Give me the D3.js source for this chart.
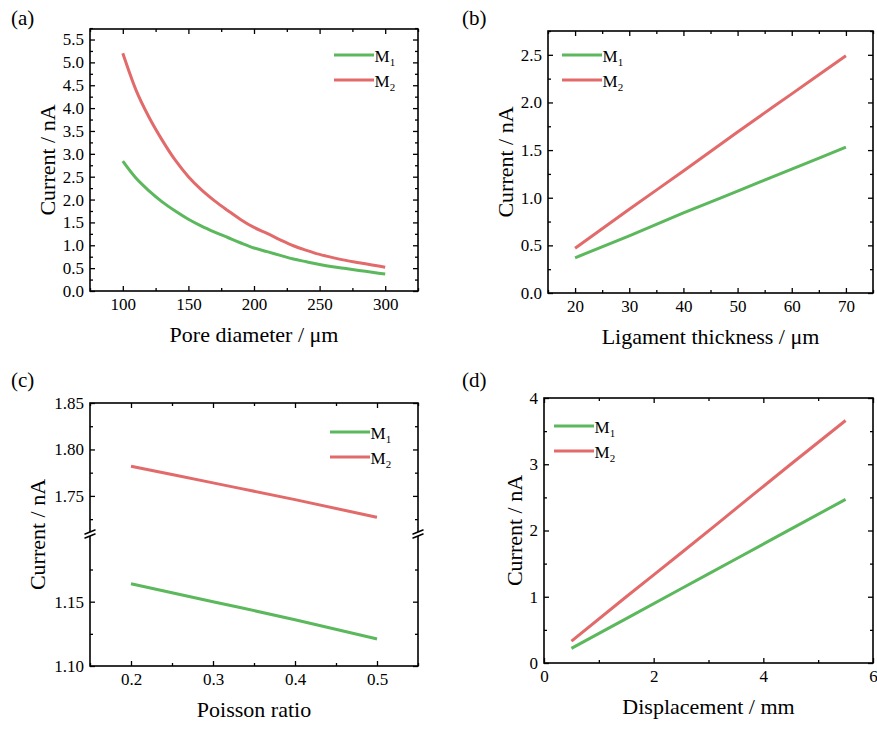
<!DOCTYPE html>
<html><head><meta charset="utf-8">
<script src="https://cdn.jsdelivr.net/npm/d3@7"></script>
<style>
body{margin:0;background:#fff}
svg{display:block}
</style>
</head><body>
<svg id="chart" width="877" height="729"></svg>
<script>
// ---------- data ----------
const seriesNames = ["M", "M"];
const seriesSubs = ["1", "2"];
const seriesColors = ["#5cb85c", "#e36a6a"];

// (a) pore diameter
const poreDiameter = [100,110,120,130,140,150,160,170,180,190,200,210,220,230,240,250,260,270,280,290,300];
const poreM1 = [2.84,2.47,2.19,1.95,1.75,1.57,1.42,1.29,1.17,1.05,0.94,0.86,0.78,0.70,0.64,0.58,0.53,0.49,0.45,0.41,0.37];
const poreM2 = [5.20,4.40,3.80,3.30,2.86,2.50,2.21,1.97,1.76,1.56,1.39,1.26,1.12,0.99,0.89,0.80,0.73,0.67,0.62,0.57,0.52];
const poreXTicks = [100,150,200,250,300];
const poreXMinor = [75,125,175,225,275,325];
const poreYTicks = [0,0.5,1,1.5,2,2.5,3,3.5,4,4.5,5,5.5];
const poreYMinor = [0.25,0.75,1.25,1.75,2.25,2.75,3.25,3.75,4.25,4.75,5.25,5.75];

// (b) ligament thickness
const ligament = [20,30,40,50,60,70];
const ligM1 = [0.37,0.60,0.84,1.07,1.30,1.53];
const ligM2 = [0.47,0.88,1.28,1.69,2.09,2.49];
const ligXTicks = [20,30,40,50,60,70];
const ligXMinor = [15,25,35,45,55,65,75];
const ligYTicks = [0,0.5,1,1.5,2,2.5];
const ligYMinor = [0.25,0.75,1.25,1.75,2.25,2.75];

// (c) Poisson ratio (broken y axis)
const poisson = [0.2,0.3,0.4,0.5];
const poisM1 = [1.164,1.150,1.136,1.121];
const poisM2 = [1.782,1.764,1.746,1.727];
const poisXTicks = [0.2,0.3,0.4,0.5];
const poisXMinor = [0.15,0.25,0.35,0.45,0.55];
const poisYTicksLow = [1.10,1.15];
const poisYMinorLow = [1.125,1.175];
const poisYTicksHigh = [1.75,1.80,1.85];
const poisYMinorHigh = [1.725,1.775,1.825];

// (d) displacement
const displacement = [0.5,1.5,2.5,3.5,4.5,5.5];
const dispM1 = [0.22,0.67,1.12,1.57,2.02,2.47];
const dispM2 = [0.33,1.00,1.66,2.33,3.00,3.66];
const dispXTicks = [0,2,4,6];
const dispXMinor = [1,3,5];
const dispYTicks = [0,1,2,3,4];
const dispYMinor = [0.5,1.5,2.5,3.5];

// ---------- drawing ----------
const FONT = "Liberation Serif";
const svg = d3.select("#chart");
const TICK_FS = 17, TITLE_FS = 22, MAJ = 5, MIN = 3;

function cleanAxis(sel){ sel.attr("font-family",FONT); sel.select(".domain").remove(); sel.selectAll("line").attr("stroke","#000").attr("stroke-width",1.3); sel.selectAll("text").attr("font-size",TICK_FS).attr("fill","#000").attr("font-family",FONT); }

function panel(cfg){
  const g = svg.append("g");
  const {x0,x1,yb,yt} = cfg;
  const x = d3.scaleLinear().domain(cfg.xDomain).range([x0,x1]);
  g.append("g").attr("transform",`translate(0,${yb})`)
    .call(d3.axisBottom(x).tickValues(cfg.xTicks).tickSize(-MAJ).tickPadding(7).tickFormat(cfg.xFmt)).call(cleanAxis);
  g.append("g").attr("transform",`translate(0,${yb})`)
    .call(d3.axisBottom(x).tickValues(cfg.xMinor).tickSize(-MIN).tickFormat("")).call(cleanAxis);
  g.append("g").attr("transform",`translate(0,${yt})`)
    .call(d3.axisTop(x).tickValues(cfg.xTicks).tickSize(-MAJ).tickFormat("")).call(cleanAxis);
  g.append("g").attr("transform",`translate(0,${yt})`)
    .call(d3.axisTop(x).tickValues(cfg.xMinor).tickSize(-MIN).tickFormat("")).call(cleanAxis);
  const yScales = cfg.ySegs.map(s => {
    const y = d3.scaleLinear().domain(s.domain).range(s.range);
    g.append("g").attr("transform",`translate(${x0},0)`)
      .call(d3.axisLeft(y).tickValues(s.ticks).tickSize(-MAJ).tickPadding(6).tickFormat(cfg.yFmt)).call(cleanAxis);
    g.append("g").attr("transform",`translate(${x0},0)`)
      .call(d3.axisLeft(y).tickValues(s.minor).tickSize(-MIN).tickFormat("")).call(cleanAxis);
    g.append("g").attr("transform",`translate(${x1},0)`)
      .call(d3.axisRight(y).tickValues(s.ticks).tickSize(-MAJ).tickFormat("")).call(cleanAxis);
    g.append("g").attr("transform",`translate(${x1},0)`)
      .call(d3.axisRight(y).tickValues(s.minor).tickSize(-MIN).tickFormat("")).call(cleanAxis);
    return y;
  });
  g.append("rect").attr("x",x0).attr("y",yt).attr("width",x1-x0).attr("height",yb-yt)
    .attr("fill","none").attr("stroke","#000").attr("stroke-width",1.6);
  if (cfg.breakY !== undefined){
    [x0,x1].forEach(bx=>{
      g.append("rect").attr("x",bx-2).attr("y",cfg.breakY-2).attr("width",4).attr("height",4).attr("fill","#fff");
      [-2,2].forEach(o=>{
        g.append("line").attr("x1",bx-5.5).attr("y1",cfg.breakY+o+2.2).attr("x2",bx+5.5).attr("y2",cfg.breakY+o-2.2)
          .attr("stroke","#000").attr("stroke-width",1.5);
      });
    });
  }
  const line = d3.line().curve(d3.curveMonotoneX);
  cfg.series.forEach((s,i)=>{
    const y = yScales[s.seg||0];
    g.append("path").datum(s.xs.map((v,k)=>[x(v), y(s.ys[k])]))
      .attr("d",line).attr("fill","none").attr("stroke",seriesColors[i]).attr("stroke-width",3)
      .attr("stroke-linejoin","round");
  });
  cfg.series.forEach((s,i)=>{
    const ly = cfg.legY + i*25;
    g.append("line").attr("x1",cfg.legX).attr("x2",cfg.legX+40).attr("y1",ly).attr("y2",ly)
      .attr("stroke",seriesColors[i]).attr("stroke-width",3);
    const t = g.append("text").attr("x",cfg.legX+40.5).attr("y",ly+6.5).attr("font-size",17);
    t.append("tspan").text(seriesNames[i]);
    t.append("tspan").attr("font-size",11).attr("dy",4).text(seriesSubs[i]);
  });
  g.append("text").attr("x",(x0+x1)/2).attr("y",yb+51).attr("text-anchor","middle")
    .attr("font-size",TITLE_FS).text(cfg.xTitle);
  g.append("text").attr("transform",`translate(${cfg.yTitleX},${(yb+yt)/2}) rotate(-90)`)
    .attr("text-anchor","middle").attr("font-size",TITLE_FS).text("Current / nA");
  g.append("text").attr("x",cfg.labX).attr("y",cfg.labY).attr("font-size",21).text(cfg.label);
}

const f1 = d3.format(".1f"), f2 = d3.format(".2f"), f0 = d3.format("d");

panel({label:"(a)", labX:11, labY:25,
  x0:90, x1:418, yb:291, yt:29, xDomain:[75,325], xTicks:poreXTicks, xMinor:poreXMinor, xFmt:f0, yFmt:f1,
  ySegs:[{domain:[0,5.73], range:[291,29], ticks:poreYTicks, minor:poreYMinor}],
  series:[{xs:poreDiameter, ys:poreM1},{xs:poreDiameter, ys:poreM2}],
  legX:334, legY:55, xTitle:"Pore diameter / μm", yTitleX:55});

panel({label:"(b)", labX:462, labY:25,
  x0:548, x1:873, yb:293, yt:31, xDomain:[15,75], xTicks:ligXTicks, xMinor:ligXMinor, xFmt:f0, yFmt:f1,
  ySegs:[{domain:[0,2.75], range:[293,31], ticks:ligYTicks, minor:ligYMinor}],
  series:[{xs:ligament, ys:ligM1},{xs:ligament, ys:ligM2}],
  legX:562, legY:55, xTitle:"Ligament thickness / μm", yTitleX:513});

panel({label:"(c)", labX:11, labY:387,
  x0:90, x1:418, yb:666, yt:403, xDomain:[0.15,0.55], xTicks:poisXTicks, xMinor:poisXMinor, xFmt:f1, yFmt:f2,
  ySegs:[{domain:[1.10,1.2026], range:[666,534], ticks:poisYTicksLow, minor:poisYMinorLow},
         {domain:[1.709,1.85], range:[534,403], ticks:poisYTicksHigh, minor:poisYMinorHigh}],
  breakY:534,
  series:[{xs:poisson, ys:poisM1, seg:0},{xs:poisson, ys:poisM2, seg:1}],
  legX:330, legY:432, xTitle:"Poisson ratio", yTitleX:45});

panel({label:"(d)", labX:462, labY:387,
  x0:544, x1:873, yb:663, yt:398, xDomain:[0,6], xTicks:dispXTicks, xMinor:dispXMinor, xFmt:f0, yFmt:f0,
  ySegs:[{domain:[0,4], range:[663,398], ticks:dispYTicks, minor:dispYMinor}],
  series:[{xs:displacement, ys:dispM1},{xs:displacement, ys:dispM2}],
  legX:554, legY:426, xTitle:"Displacement / mm", yTitleX:522});

svg.selectAll("text").attr("font-family",FONT).attr("fill","#000");
</script>
</body></html>
